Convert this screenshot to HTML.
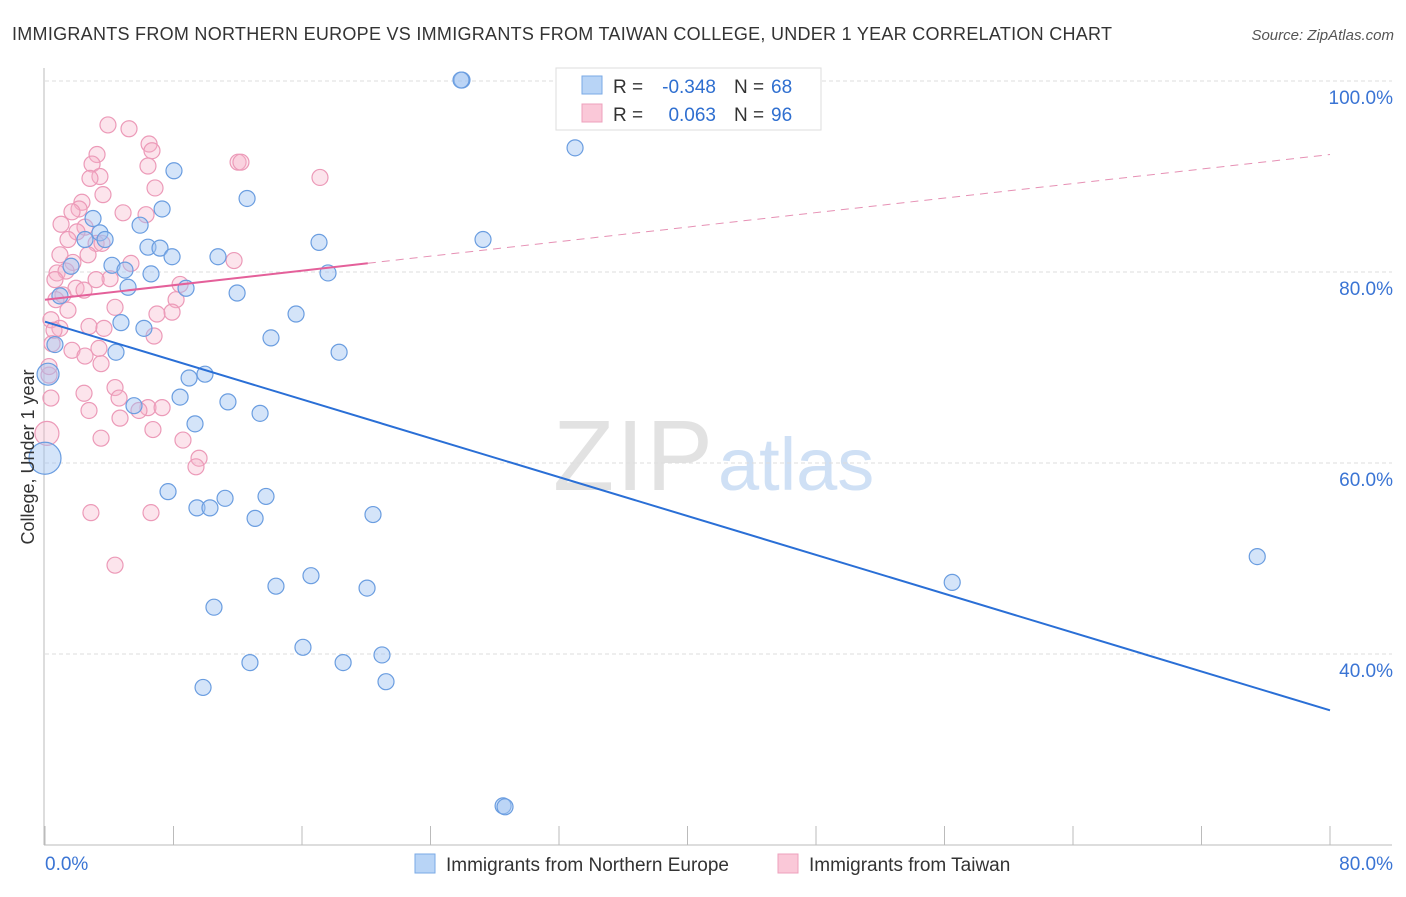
<!DOCTYPE html>
<html><head><meta charset="utf-8"><style>
body{margin:0;background:#fff;font-family:"Liberation Sans",sans-serif;}
svg text{font-family:"Liberation Sans",sans-serif;}
</style></head><body>
<svg id="chart" width="1406" height="892" xmlns="http://www.w3.org/2000/svg">
<text x="12" y="40" font-size="18" fill="#333" textLength="1100">IMMIGRANTS FROM NORTHERN EUROPE VS IMMIGRANTS FROM TAIWAN COLLEGE, UNDER 1 YEAR CORRELATION CHART</text>
<text x="1394" y="40" font-size="15" fill="#555" font-style="italic" text-anchor="end">Source: ZipAtlas.com</text>
<g><text x="553" y="490" font-size="100" fill="#e2e2e2" font-family="Liberation Serif" textLength="160">ZIP</text><text x="718" y="490" font-size="74" fill="#cfe0f5">atlas</text></g>
<g id="grid"></g><g id="axes"></g><g id="marks"></g>
<text transform="translate(34,457) rotate(-90)" font-size="18" fill="#333" text-anchor="middle">College, Under 1 year</text>
<g>
<rect x="556" y="68" width="265" height="62" fill="#fff" stroke="#ddd"/>
<rect x="582" y="76" width="20" height="18" fill="#b8d4f6" stroke="#7aaae6"/>
<rect x="582" y="104" width="20" height="18" fill="#fac8d8" stroke="#eea0bc"/>
<text x="613" y="93" font-size="19" fill="#333">R =</text>
<text x="716" y="93" font-size="19" fill="#2f6fd0" text-anchor="end">-0.348</text>
<text x="734" y="93" font-size="19" fill="#333">N =</text>
<text x="771" y="93" font-size="19" fill="#2f6fd0">68</text>
<text x="613" y="121" font-size="19" fill="#333">R =</text>
<text x="716" y="121" font-size="19" fill="#2f6fd0" text-anchor="end">0.063</text>
<text x="734" y="121" font-size="19" fill="#333">N =</text>
<text x="771" y="121" font-size="19" fill="#2f6fd0">96</text>
</g>
<g>
<rect x="415" y="854" width="20" height="19" fill="#b8d4f6" stroke="#7aaae6"/>
<text x="446" y="871" font-size="19" fill="#333">Immigrants from Northern Europe</text>
<rect x="778" y="854" width="20" height="19" fill="#fac8d8" stroke="#eea0bc"/>
<text x="809" y="871" font-size="19" fill="#333">Immigrants from Taiwan</text>
</g>
</svg>
<script>
const xTicks=[0,8,16,24,32,40,48,56,64,72,80];
const yTicks=[40,60,80,100];
const yTickLabels=["40.0%","60.0%","80.0%","100.0%"];
const blueX=[25.96,33.0,8.03,12.58,7.29,2.99,5.92,3.42,2.49,3.74,17.06,27.27,6.41,7.16,7.91,10.77,1.62,4.17,4.98,6.6,17.62,5.17,8.78,11.96,0.93,15.63,4.73,6.16,14.07,0.62,4.42,18.31,0.19,9.96,8.97,8.41,11.39,5.54,13.39,9.34,0,7.66,11.21,13.76,9.46,10.27,13.08,20.42,56.48,75.47,14.38,16.56,20.05,10.52,16.06,12.76,18.56,20.98,9.84,21.23,28.52,28.64,25.9];
const blueY=[100.1,93.0,90.6,87.7,86.6,85.6,84.9,84.1,83.4,83.4,83.1,83.4,82.6,82.5,81.6,81.6,80.6,80.7,80.2,79.8,79.9,78.4,78.3,77.8,77.5,75.6,74.7,74.1,73.1,72.4,71.6,71.6,69.3,69.3,68.9,66.9,66.4,66.0,65.2,64.1,60.5,57.0,56.3,56.5,55.3,55.3,54.2,54.6,47.5,50.2,47.1,48.2,46.9,44.9,40.7,39.1,39.1,39.9,36.5,37.1,24.1,24.0,100.1];
const blueBig={32:11,40:16};
const pinkX=[3.92,5.23,6.48,6.66,3.24,2.93,6.41,12.02,12.2,3.42,17.12,2.8,6.85,3.61,2.3,2.12,1.68,4.86,6.29,1.0,2.49,1.99,1.43,3.18,3.55,0.93,1.74,2.68,5.35,11.77,0.75,1.31,4.05,3.18,8.41,0.62,1.93,2.43,1.12,8.16,0.68,4.36,1.43,7.91,6.97,0.37,0.93,2.74,3.67,6.79,3.36,1.68,0.44,2.49,3.49,0.25,0.25,4.36,2.43,4.61,0.37,6.41,7.29,5.85,2.74,4.67,6.72,3.49,8.59,9.59,9.4,2.86,6.6,4.36,0.12,0.56];
const pinkY=[95.4,95.0,93.4,92.7,92.3,91.3,91.1,91.5,91.5,90.0,89.9,89.8,88.8,88.1,87.3,86.6,86.3,86.2,86.0,85.0,84.7,84.2,83.4,83.0,83.0,81.8,81.0,81.8,80.9,81.2,79.9,80.1,79.3,79.2,78.7,79.2,78.3,78.1,77.6,77.1,77.1,76.3,76.0,75.8,75.6,75.0,74.1,74.3,74.1,73.3,72.0,71.8,72.5,71.2,70.4,69.2,70.1,67.9,67.3,66.8,66.8,65.8,65.8,65.5,65.5,64.7,63.5,62.6,62.4,60.5,59.6,54.8,54.8,49.3,63.1,73.9];
const pinkBig={74:12};
const blueTrend=[74.8,34.1];
const pinkTrend=[77.1,92.3];
const pinkSolidEnd=20.1;
const NS="http://www.w3.org/2000/svg";
const X=v=>45+v*(1285/80), Y=v=>845-(v-20)*9.55;
function mk(t,a,p){const e=document.createElementNS(NS,t);for(const k in a)e.setAttribute(k,a[k]);p.appendChild(e);return e;}
const grid=document.getElementById('grid'),axes=document.getElementById('axes'),marks=document.getElementById('marks');
yTicks.forEach((t,i)=>{
 const l=mk('line',{x1:45,x2:1392,y1:Y(t),y2:Y(t),stroke:'#ddd','stroke-dasharray':'4,3'},grid);
 
 
 const tx=mk('text',{x:1393,y:Y(t)+23,'font-size':19,fill:'#3a74d4','text-anchor':'end'},axes);
 tx.textContent=yTickLabels[i];
 
 
});
const ya=mk('line',{x1:44,x2:44,y1:68,y2:845,stroke:'#bbb'},axes);


const xa=mk('line',{x1:44,x2:1392,y1:845,y2:845,stroke:'#bbb'},axes);


xTicks.forEach(t=>{
 const l=mk('line',{x1:X(t),x2:X(t),y1:826,y2:845,stroke:'#bbb'},axes);
 
 
});
[[0,'start',45,"0.0%"],[80,'end',1393,"80.0%"]].forEach(d=>{
 const tx=mk('text',{x:d[2],y:870,'font-size':19,fill:'#3a74d4','text-anchor':d[1]},axes);
 tx.textContent=d[3];
 
 
});
pinkX.forEach((v,i)=>{
 const c=mk('circle',{cx:X(v),cy:Y(pinkY[i]),r:pinkBig[i]||8,fill:'rgba(246,178,200,0.35)',stroke:'#ec9ab8','stroke-width':1.2},marks);
 
 
});
blueX.forEach((v,i)=>{
 const c=mk('circle',{cx:X(v),cy:Y(blueY[i]),r:blueBig[i]||8,fill:'rgba(160,196,242,0.45)',stroke:'#6a9de0','stroke-width':1.2},marks);
 
 
});
const bt=mk('line',{x1:X(0),y1:Y(blueTrend[0]),x2:X(80),y2:Y(blueTrend[1]),stroke:'#2a6fd6','stroke-width':2},marks);


const py=x=>pinkTrend[0]+(pinkTrend[1]-pinkTrend[0])*x/80;
const pt=mk('line',{x1:X(0),y1:Y(py(0)),x2:X(pinkSolidEnd),y2:Y(py(pinkSolidEnd)),stroke:'#e4609a','stroke-width':2},marks);


const pd=mk('line',{x1:X(pinkSolidEnd),y1:Y(py(pinkSolidEnd)),x2:X(80),y2:Y(py(80)),stroke:'#e690b4','stroke-width':1,'stroke-dasharray':'8,6'},marks);


</script>
</body></html>
